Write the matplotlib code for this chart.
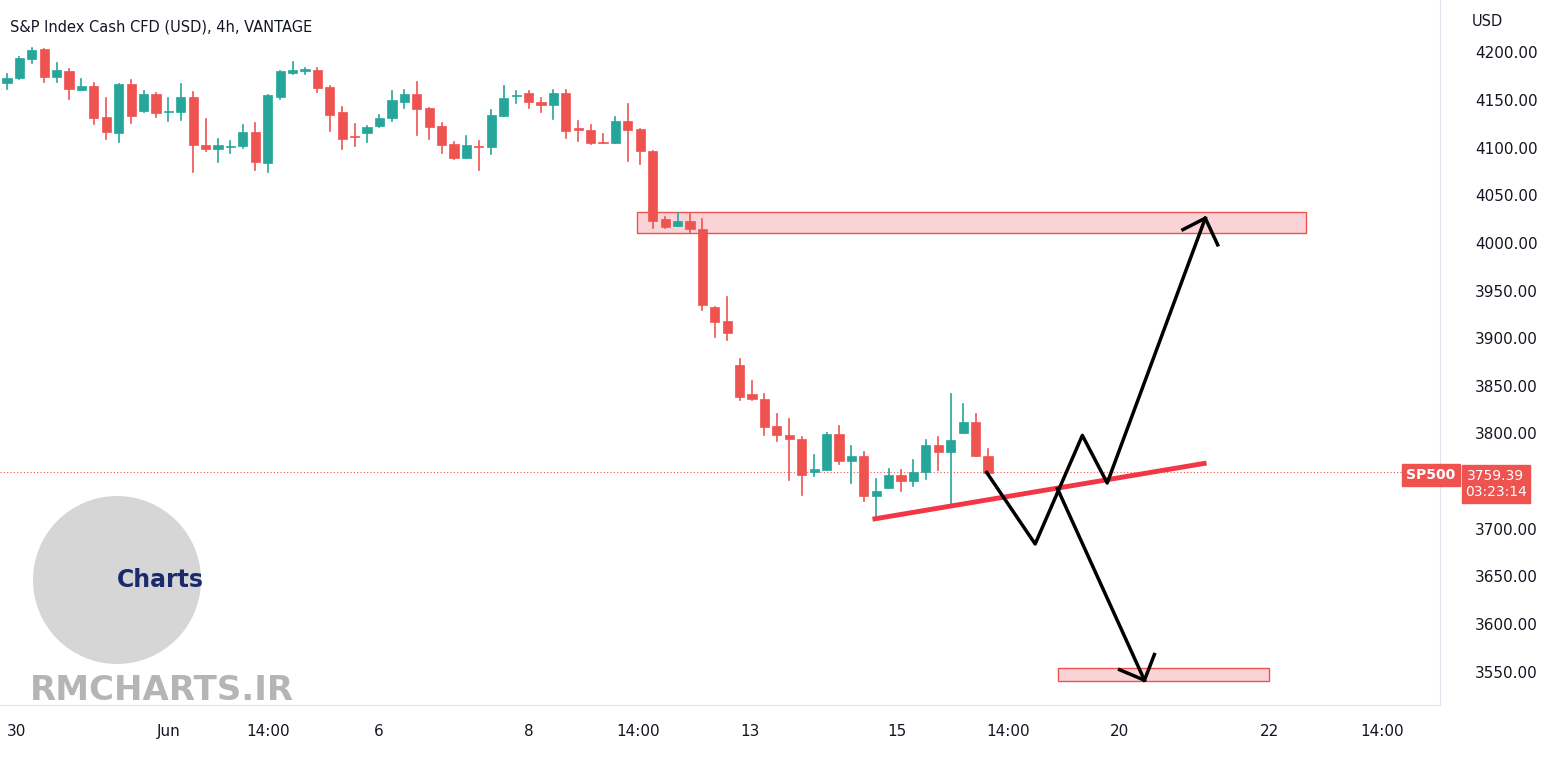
import numpy as np
import matplotlib.pyplot as plt
from matplotlib.patches import Rectangle, Ellipse

# 4h candles, S&P 500 CFD
opens = [4168, 4173, 4193, 4204, 4174, 4180, 4161, 4165, 4132, 4115, 4167, 4138, 4156, 4137, 4137, 4153,
         4103, 4099, 4101, 4102, 4116, 4084, 4153, 4178, 4181, 4182, 4164, 4137, 4112, 4115, 4123, 4131,
         4148, 4156, 4142, 4123, 4104, 4089, 4102, 4101, 4133, 4154, 4157, 4148, 4145, 4157, 4120, 4119,
         4106, 4105, 4128, 4120, 4097, 4025, 4018, 4023, 4015, 3933, 3918, 3872, 3841, 3836, 3808, 3798,
         3794, 3760, 3762, 3799, 3771, 3776, 3734, 3743, 3756, 3750, 3760, 3788, 3781, 3800, 3812, 3776]
highs = [4177, 4195, 4205, 4204, 4189, 4183, 4172, 4168, 4152, 4167, 4171, 4159, 4157, 4152, 4167, 4158,
         4130, 4109, 4107, 4124, 4126, 4155, 4181, 4190, 4184, 4184, 4165, 4143, 4125, 4123, 4134, 4159,
         4161, 4169, 4142, 4126, 4106, 4112, 4107, 4140, 4165, 4160, 4159, 4152, 4161, 4161, 4128, 4124,
         4114, 4132, 4146, 4120, 4097, 4027, 4031, 4030, 4025, 3933, 3943, 3878, 3855, 3841, 3820, 3815,
         3796, 3777, 3800, 3808, 3787, 3781, 3752, 3763, 3762, 3772, 3793, 3796, 3841, 3831, 3820, 3784]
lows = [4162, 4172, 4189, 4169, 4169, 4151, 4161, 4125, 4109, 4106, 4126, 4137, 4132, 4128, 4129, 4074,
        4096, 4085, 4094, 4100, 4077, 4074, 4151, 4177, 4177, 4158, 4118, 4099, 4102, 4106, 4122, 4128,
        4142, 4113, 4109, 4094, 4088, 4089, 4077, 4093, 4133, 4147, 4142, 4137, 4130, 4110, 4107, 4104,
        4105, 4105, 4086, 4083, 4016, 4016, 4018, 4011, 3930, 3901, 3898, 3835, 3835, 3798, 3792, 3751,
        3735, 3755, 3762, 3768, 3748, 3729, 3711, 3743, 3740, 3745, 3752, 3762, 3724, 3800, 3776, 3759]
closes = [4173, 4194, 4203, 4174, 4181, 4162, 4165, 4131, 4116, 4167, 4133, 4156, 4136, 4138, 4153, 4103,
          4099, 4103, 4102, 4116, 4085, 4155, 4180, 4182, 4182, 4163, 4134, 4109, 4111, 4122, 4131, 4150,
          4156, 4141, 4122, 4103, 4089, 4103, 4101, 4134, 4152, 4155, 4148, 4145, 4157, 4118, 4119, 4105,
          4105, 4128, 4119, 4096, 4023, 4017, 4023, 4015, 3935, 3917, 3905, 3838, 3836, 3807, 3798, 3794,
          3756, 3763, 3799, 3771, 3776, 3734, 3740, 3756, 3750, 3760, 3788, 3781, 3793, 3812, 3776, 3759]

last_price = 3759.39
tick_pos = [0.8, 13, 21, 29.9, 42, 50.8, 59.8, 71.7, 80.6, 89.6, 101.7, 110.7]
tick_labels = ['30', 'Jun', '14:00', '6', '8', '14:00', '13', '15', '14:00', '20', '22', '14:00']
# 3750 sits under the last-price label
price_ticks = [3550, 3600, 3650, 3700, 3800, 3850, 3900, 3950, 4000, 4050, 4100, 4150, 4200]

# drawn projection
path_x = [78.9, 82.8, 86.6, 88.6, 96.5]
path_y = [3759, 3684, 3798, 3748, 4026]
head1_x = [94.7, 96.5, 97.5]
head1_y = [4014, 4026, 3998]
path2_x = [84.6, 91.6]
path2_y = [3742, 3541]
head2_x = [89.6, 91.6, 92.4]
head2_y = [3552, 3541, 3568]
trend_x = [69.7, 96.6]
trend_y = [3710, 3769]

up = '#26a69a'
down = '#ef5350'

fig = plt.figure(figsize=(15.5, 7.65), dpi=100)
ax = fig.add_axes([0, 60 / 765, 1440 / 1550, 1 - 60 / 765])

for i in range(len(opens)):
    o, h, l, c = opens[i], highs[i], lows[i], closes[i]
    col = up if c >= o else down
    ax.plot([i, i], [l, h], color=col, lw=1.2, zorder=3)
    ax.add_patch(Rectangle((i - 0.37, min(o, c)), 0.74, max(abs(c - o), 1.2),
                           facecolor=col, edgecolor=col, lw=0.5, zorder=4))

ax.add_patch(Rectangle((50.7, 4010), 53.9, 22, facecolor='#f9d3d6', edgecolor='#ef5350', lw=1, zorder=2))
ax.add_patch(Rectangle((84.6, 3540), 17, 14, facecolor='#f9d3d6', edgecolor='#ef5350', lw=1, zorder=2))
ax.axhline(last_price, color=down, lw=0.8, ls=(0, (1, 2)), zorder=1)

ax.plot(trend_x, trend_y, color='#f23645', lw=3.5, solid_capstyle='butt', zorder=5)
ax.plot(path_x, path_y, color='black', lw=2.5, zorder=6)
ax.plot(head1_x, head1_y, color='black', lw=2.5, zorder=6)
ax.plot(path2_x, path2_y, color='black', lw=2.5, zorder=6)
ax.plot(head2_x, head2_y, color='black', lw=2.5, zorder=6)

ax.set_xlim(-0.56, 115.4)
ax.set_ylim(3515, 4255)
ax.set_xticks(tick_pos)
ax.set_xticklabels(tick_labels)
ax.yaxis.tick_right()
ax.set_yticks(price_ticks)
ax.set_yticklabels([f'{p:.2f}' for p in price_ticks])
ax.tick_params(length=0, labelsize=11, colors='#131722', pad=14)
ax.tick_params(axis='y', pad=48)
for lab in ax.get_yticklabels():
    lab.set_horizontalalignment('center')
for s in ['top', 'left']:
    ax.spines[s].set_visible(False)
ax.spines['right'].set_color('#e0e3eb')
ax.spines['bottom'].set_color('#e0e3eb')

fig.text(10 / 1550, 1 - 27 / 765, 'S&P Index Cash CFD (USD), 4h, VANTAGE', fontsize=10.5,
         color='#131722', va='center')
fig.text(1487 / 1550, 1 - 22 / 765, 'USD', fontsize=10.5, color='#131722', va='center', ha='center')

# price labels
fig.text(1431 / 1550, 1 - 475 / 765, 'SP500', fontsize=10, color='white', fontweight='bold',
         ha='center', va='center', bbox=dict(boxstyle='square,pad=0.3', fc=down, ec=down))
fig.text(1496 / 1550, 1 - 484 / 765, f'{last_price:.2f}\n03:23:14', fontsize=10, color='white',
         ha='center', va='center', linespacing=1.25,
         bbox=dict(boxstyle='square,pad=0.25', fc=down, ec=down))

# watermark
fig.add_artist(Ellipse((117 / 1550, 1 - 580 / 765), 168 / 1550, 168 / 765,
                       facecolor='#d6d6d6', edgecolor='none', zorder=0.5))
fig.text(160 / 1550, 1 - 580 / 765, 'Charts', fontsize=17, fontweight='bold', color='#1a2a6c',
         ha='center', va='center')
fig.text(30 / 1550, 1 - 690 / 765, 'RMCHARTS.IR', fontsize=24.5, fontweight='bold', color='#b5b5b5',
         ha='left', va='center')

fig.savefig('out.png', dpi=100)
